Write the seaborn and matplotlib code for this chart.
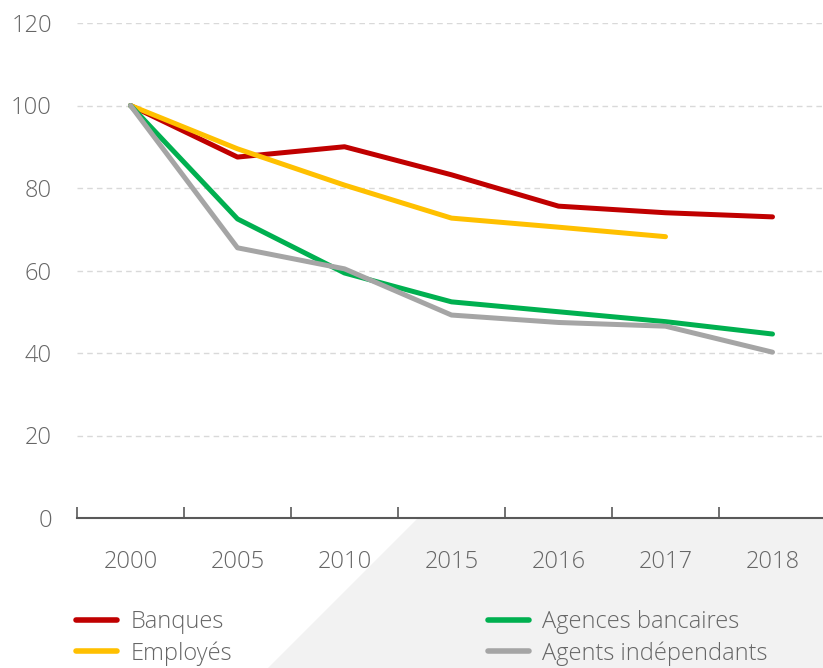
import numpy as np
import pandas as pd
import matplotlib.pyplot as plt
from matplotlib.patches import Polygon
from matplotlib.lines import Line2D
import seaborn as sns

years = ['2000', '2005', '2010', '2015', '2016', '2017', '2018']
banques = [100, 87.5, 90, 83.2, 75.6, 74, 73]
employes = [100, 89.5, 80.7, 72.7, 70.5, 68.2, np.nan]
agences = [100, 72.5, 59.4, 52.4, 50, 47.6, 44.6]
agents = [100, 65.5, 60.4, 49.2, 47.4, 46.5, 40.2]

series = ['Banques', 'Employés', 'Agences bancaires', 'Agents indépendants']
colors = ['#C00000', '#FFC000', '#00B050', '#A5A5A5']

df = pd.DataFrame({
    'year': years * 4,
    'value': banques + employes + agences + agents,
    'serie': [s for s in series for _ in years],
})

sns.set_theme(style='white')
plt.rcParams['font.family'] = ['Open Sans', 'DejaVu Sans']
text_color = '#666666'

fig = plt.figure(figsize=(8.23, 6.68), dpi=100)
ax = fig.add_axes([77 / 823, 150 / 668, 749 / 823, 495 / 668])
ax.set_facecolor('none')

# light grey diagonal band behind the bottom
fig.patches.append(Polygon([(268 / 823, 0), (417 / 823, 149 / 668), (1, 149 / 668), (1, 0)],
                           closed=True, transform=fig.transFigure,
                           facecolor='#F2F2F2', edgecolor='none', zorder=-5))

sns.lineplot(data=df, x='year', y='value', hue='serie', hue_order=series,
             palette=colors, linewidth=3.6, legend=False, ax=ax,
             solid_capstyle='round')

ax.set_xlim(-0.5, 6.5)
ax.set_ylim(0, 120)
ax.set_yticks(range(0, 121, 20))
for y in range(20, 121, 20):
    ax.axhline(y, color='#D9D9D9', linestyle=(0, (4, 3)), linewidth=1, zorder=0)

for side in ['top', 'right', 'left']:
    ax.spines[side].set_visible(False)
ax.spines['bottom'].set_color('#595959')
ax.spines['bottom'].set_linewidth(1.5)

fs = 17
ax.set_xticks(np.arange(-0.5, 7, 1), minor=True)
ax.tick_params(axis='x', which='minor', bottom=True, direction='in', length=8,
               width=1.2, color='#595959')
ax.tick_params(axis='x', which='major', bottom=False, pad=17, labelsize=fs,
               labelcolor=text_color)
ax.tick_params(axis='y', length=0, pad=18, labelsize=fs, labelcolor=text_color)
for lbl in ax.get_xticklabels() + ax.get_yticklabels():
    lbl.set_fontweight('light')
ax.set_xlabel('')
ax.set_ylabel('')

handles = [Line2D([0], [0], color=c, linewidth=4, solid_capstyle='round') for c in colors]
leg_kw = dict(loc='upper left', frameon=False, handlelength=1.75,
              handletextpad=0.55, labelspacing=0.3, borderpad=0, borderaxespad=0,
              labelcolor=text_color, prop={'weight': 'light', 'size': fs})
fig.legend(handles[:2], series[:2], bbox_to_anchor=(76 / 823, 1 - 610 / 668), **leg_kw)
fig.legend(handles[2:], series[2:], bbox_to_anchor=(488 / 823, 1 - 610 / 668), **leg_kw)

fig.savefig('out.png', dpi=100)
